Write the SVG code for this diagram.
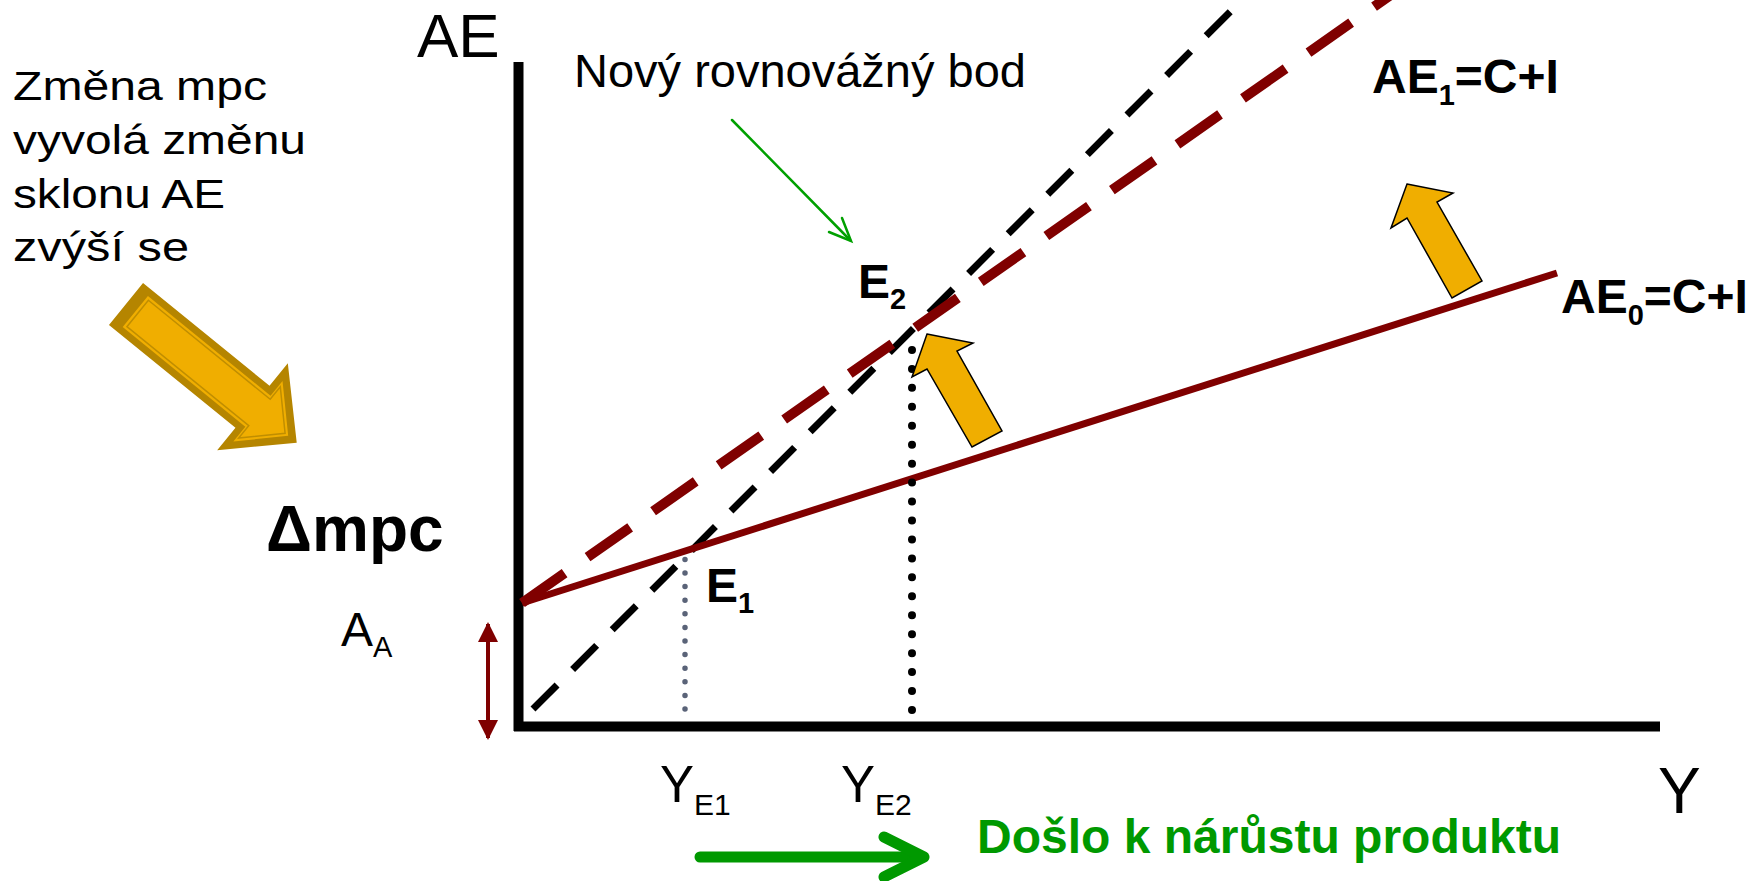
<svg xmlns="http://www.w3.org/2000/svg" width="1764" height="881" viewBox="0 0 1764 881">
<defs>
<style>
.t{font-family:"Liberation Sans",Arial,sans-serif;fill:#000}
.b{font-family:"Liberation Sans",Arial,sans-serif;font-weight:bold;fill:#000}
.ax{stroke:#000;stroke-width:10;fill:none}
.ae0{stroke:#800000;stroke-width:7;fill:none}
.ae1{stroke:#800000;stroke-width:10;fill:none;stroke-dasharray:52 28}
.diag{stroke:#000;stroke-width:7;fill:none;stroke-dasharray:34 22}
.shift{fill:#F0AE00;stroke:#000;stroke-width:1.5;stroke-linejoin:miter}
</style>
<marker id="redHead" viewBox="0 0 10 10" refX="9" refY="5" markerWidth="5" markerHeight="5" orient="auto-start-reverse" markerUnits="strokeWidth">
<path d="M0,0 L10,5 L0,10 Z" fill="#7F0000"/>
</marker>
</defs>
<rect width="1764" height="881" fill="#fff"/>

<g id="axes">
<line class="ax" x1="518.5" y1="62" x2="518.5" y2="731"/>
<line class="ax" x1="514" y1="726.5" x2="1660" y2="726.5"/>
</g>

<g id="connectors">
<line class="diag" x1="533" y1="709" x2="1252" y2="-10"/>
<line class="ae1" x1="522" y1="603" x2="1395" y2="-8"/>
<line class="ae0" x1="522" y1="603" x2="1557" y2="273"/>
<line x1="685" y1="709" x2="685" y2="558" stroke="#5A6378" stroke-width="5.5" stroke-linecap="round" stroke-dasharray="0 13.6"/>
<line x1="912" y1="710" x2="912" y2="349" stroke="#000" stroke-width="8" stroke-linecap="round" stroke-dasharray="0 18.95"/>
<line x1="488" y1="624" x2="488" y2="738" stroke="#7F0000" stroke-width="4" marker-start="url(#redHead)" marker-end="url(#redHead)"/>
<g stroke="#00A000" stroke-width="2.5" fill="none" stroke-linecap="round">
<line x1="732" y1="120" x2="850" y2="240"/>
<polyline points="842,218 851,241 829,232"/>
</g>
<g stroke="#009900" stroke-width="11" fill="none" stroke-linecap="round" stroke-linejoin="round">
<line x1="700" y1="857" x2="922" y2="857"/>
<polyline points="884,837 924,857 884,877"/>
</g>
</g>

<g id="bigArrow" transform="translate(126,304) rotate(39.1)">
<polygon points="0,-27 163,-27 163,-56 220,0 163,56 163,27 0,27" fill="#B58500"/>
<polygon points="12,-20 170,-20 170,-39 209,0 170,39 170,20 12,20" fill="#F0AE00"/>
<polygon points="15,-17 172,-17 172,-33 205,0 172,33 172,17 15,17" fill="#F0AE00" stroke="#C08E00" stroke-width="1.5"/>
</g>

<g id="shiftArrow1"><polygon class="shift" points="927,334 973,343 957,351 1002,431 972,447 927,369 912,377"/></g>
<g id="shiftArrow2"><polygon class="shift" points="1407,184 1453,193 1437,202 1482,281 1452,298 1407,218 1391,228"/></g>

<g id="leftText" class="t" font-size="41">
<text x="13" y="100" textLength="254" lengthAdjust="spacingAndGlyphs">Změna mpc</text>
<text x="13" y="154" textLength="293" lengthAdjust="spacingAndGlyphs">vyvolá změnu</text>
<text x="13" y="208" textLength="212" lengthAdjust="spacingAndGlyphs">sklonu AE</text>
<text x="13" y="261" textLength="176" lengthAdjust="spacingAndGlyphs">zvýší se</text>
</g>

<g id="labelAE"><text class="t" x="417" y="57" font-size="62">AE</text></g>
<g id="labelY"><text class="t" x="1658" y="813" font-size="64">Y</text></g>
<g id="labelNovy"><text class="t" x="574" y="87" font-size="47">Nový rovnovážný bod</text></g>
<g id="labelDmpc"><text class="b" x="266" y="551" font-size="64">Δmpc</text></g>
<g id="labelAA"><text class="t" x="341" y="646" font-size="48">A<tspan font-size="29" dy="11">A</tspan></text></g>
<g id="labelE1"><text class="b" x="706" y="602" font-size="48">E<tspan font-size="29" dy="11">1</tspan></text></g>
<g id="labelE2"><text class="b" x="858" y="298" font-size="48">E<tspan font-size="29" dy="11">2</tspan></text></g>
<g id="labelAE1"><text class="b" x="1372" y="93" font-size="48">AE<tspan font-size="29" dy="12">1</tspan><tspan dy="-12">=C+I</tspan></text></g>
<g id="labelAE0"><text class="b" x="1561" y="313" font-size="48">AE<tspan font-size="29" dy="12">0</tspan><tspan dy="-12">=C+I</tspan></text></g>
<g id="labelYE1"><text class="t" x="660" y="802" font-size="51">Y<tspan font-size="30" dy="13">E1</tspan></text></g>
<g id="labelYE2"><text class="t" x="841" y="802" font-size="51">Y<tspan font-size="30" dy="13">E2</tspan></text></g>
<g id="labelDoslo"><text class="b" x="977" y="853" font-size="48" style="fill:#009900">Došlo k nárůstu produktu</text></g>
</svg>
